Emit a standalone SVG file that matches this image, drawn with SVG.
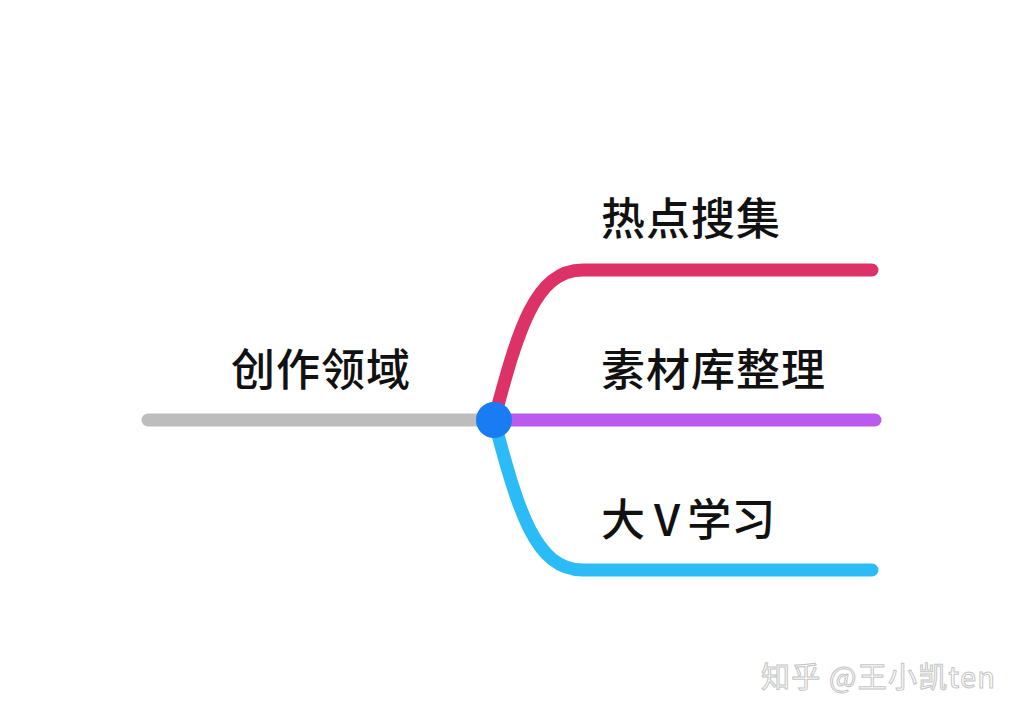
<svg xmlns="http://www.w3.org/2000/svg" width="1025" height="720" viewBox="0 0 1025 720">
<style>
.lbl{font-family:"Noto Sans CJK SC","Noto Sans",sans-serif;font-size:44px;font-weight:500;fill:#111}
.br{fill:none;stroke-width:13;stroke-linecap:round}
.wm{font-family:"Noto Sans CJK SC","Noto Sans",sans-serif;font-size:29px;fill:#fff;stroke:#c4c4c4;stroke-width:1}
</style>
<rect width="1025" height="720" fill="#fff"/>
<g id="connectors">
<path class="br" stroke="#bdbdbd" d="M148,420 L494,420"/>
<path class="br" stroke="#dc3268" d="M494,420 C518,330 535,270 583,270 L872,270"/>
<path class="br" stroke="#bb5aee" d="M494,420 L875,420"/>
<path class="br" stroke="#2bbbf7" d="M494,420 C518,510 535,570 583,570 L872,570"/>
</g>
<g id="root"><text class="lbl" x="231" y="386" letter-spacing="1">创作领域</text></g>
<g id="hub"><circle cx="494" cy="420" r="18" fill="#1a7cf2"/></g>
<g id="n1"><text class="lbl" x="601" y="235" letter-spacing="1">热点搜集</text></g>
<g id="n2"><text class="lbl" x="601" y="386" letter-spacing="1">素材库整理</text></g>
<g id="n3"><text class="lbl" x="601" y="536">大<tspan dx="9">V</tspan><tspan dx="7">学习</tspan></text></g>
<g id="watermark"><text class="wm" x="761" y="688" letter-spacing="1.2">知乎 @王小凯ten</text></g>
</svg>
